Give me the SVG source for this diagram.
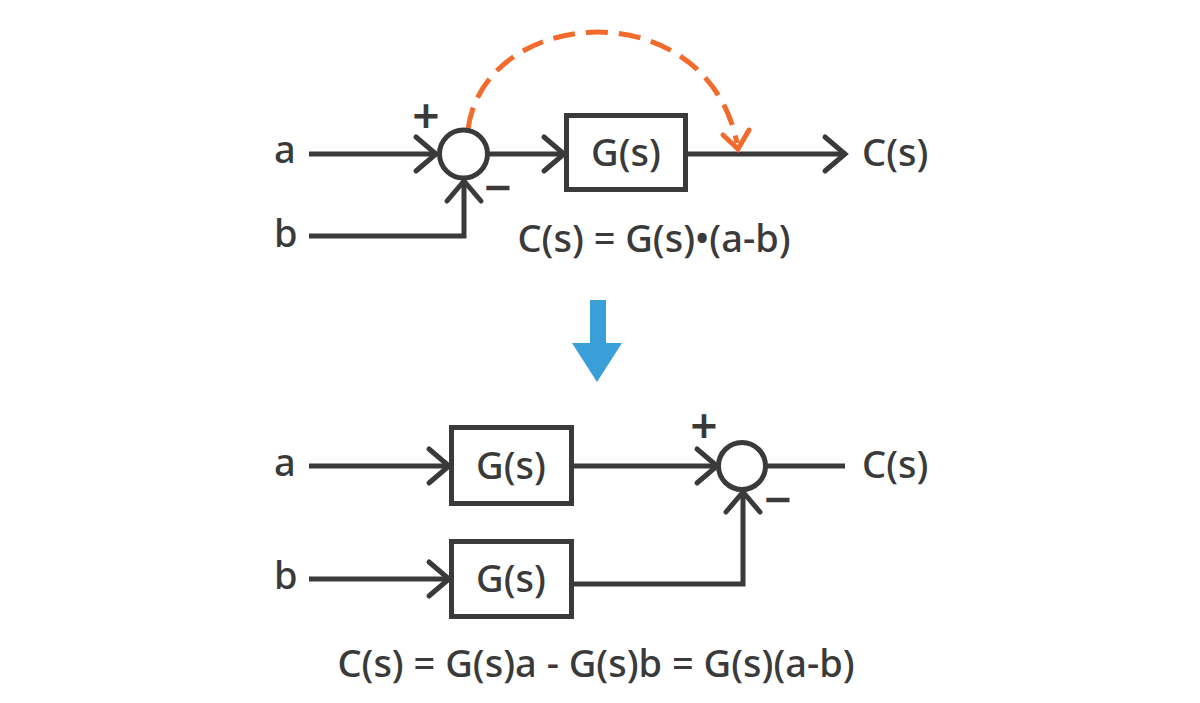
<svg xmlns="http://www.w3.org/2000/svg" width="1200" height="703" viewBox="0 0 1200 703">
<style>
.t{font-family:"Noto Sans","Open Sans","Liberation Sans",sans-serif;font-weight:500;font-size:38px;fill:#3a3a3a}
.m{text-anchor:middle}
.ln{fill:none;stroke:#3a3a3a;stroke-width:5}
.box{fill:#fff;stroke:#3a3a3a;stroke-width:5}
.sum{fill:#fff;stroke:#3a3a3a;stroke-width:5}
.sg{font-family:"Noto Sans","Liberation Sans",sans-serif;font-weight:600;font-size:48px;fill:#3a3a3a;text-anchor:middle}
</style>
<defs>
<marker id="chev" markerUnits="userSpaceOnUse" viewBox="-30 -25 36 50" refX="1" refY="0" markerWidth="36" markerHeight="50" orient="auto" overflow="visible">
<path d="M-20,-17 L0,0 L-20,17" fill="none" stroke="#3a3a3a" stroke-width="5" stroke-linecap="round"/>
</marker>
</defs>
<rect width="1200" height="703" fill="#fff"/>
<g id="connectors">
<path class="ln" d="M309,154 H437" marker-end="url(#chev)"/>
<path class="ln" d="M487,154 H565" marker-end="url(#chev)"/>
<path class="ln" d="M688,154 H846" marker-end="url(#chev)"/>
<path class="ln" d="M309,236 H464 V180" marker-end="url(#chev)"/>
<path d="M468,129 C485,5 706,-10 737,143" fill="none" stroke="#f26a2c" stroke-width="5" stroke-dasharray="22 11"/>
<path d="M723,135 L738,149 L749,130" fill="none" stroke="#f26a2c" stroke-width="5" stroke-linecap="round"/>
<path class="ln" d="M309,466 H450" marker-end="url(#chev)"/>
<path class="ln" d="M573,466 H718" marker-end="url(#chev)"/>
<path class="ln" d="M765,466 H845"/>
<path class="ln" d="M309,579 H450" marker-end="url(#chev)"/>
<path class="ln" d="M573,584 H743 V491" marker-end="url(#chev)"/>
</g>
<g id="arrow-down">
<path d="M590,300 H606 V343 H622 L597,382 L572,343 H590 Z" fill="#3a9fd8"/>
</g>
<g id="label-a1"><text class="t" x="274" y="163">a</text></g>
<g id="label-b1"><text class="t" x="274" y="247">b</text></g>
<g id="sum1">
<circle class="sum" cx="463.5" cy="154" r="24"/>
<text class="sg" x="426" y="133">+</text>
<text class="sg" x="498" y="205">−</text>
</g>
<g id="block1">
<rect class="box" x="566.5" y="115.5" width="119" height="74"/>
<text class="t m" x="626" y="166">G(s)</text>
</g>
<g id="out1"><text class="t" x="862" y="166">C(s)</text></g>
<g id="eq1"><text class="t m" x="654" y="252">C(s) = G(s)•(a-b)</text></g>
<g id="label-a2"><text class="t" x="274" y="476">a</text></g>
<g id="label-b2"><text class="t" x="274" y="589">b</text></g>
<g id="block2">
<rect class="box" x="451.5" y="427.5" width="120" height="76"/>
<text class="t m" x="511" y="479">G(s)</text>
</g>
<g id="block3">
<rect class="box" x="451.5" y="541.5" width="120" height="75"/>
<text class="t m" x="511" y="592">G(s)</text>
</g>
<g id="sum2">
<circle class="sum" cx="742" cy="466" r="23.5"/>
<text class="sg" x="704" y="443">+</text>
<text class="sg" x="778" y="517">−</text>
</g>
<g id="out2"><text class="t" x="862" y="478">C(s)</text></g>
<g id="eq2"><text class="t m" x="596" y="677">C(s) = G(s)a - G(s)b = G(s)(a-b)</text></g>
</svg>
